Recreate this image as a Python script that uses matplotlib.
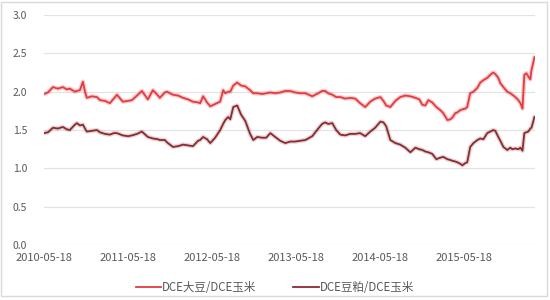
import matplotlib
matplotlib.use("Agg")
import matplotlib.pyplot as plt
import pandas as pd
from matplotlib.patches import Rectangle

plt.rcParams['font.family'] = ['Noto Sans CJK SC', 'DejaVu Sans']

dates = [
    "2010-05-18", "2010-06-04", "2010-06-26", "2010-07-17", "2010-08-08", "2010-08-25",
    "2010-09-07", "2010-09-29", "2010-10-08", "2010-10-21", "2010-11-03", "2010-11-12",
    "2010-11-20", "2010-12-12", "2011-01-03", "2011-01-16", "2011-02-07", "2011-02-28",
    "2011-03-17", "2011-03-31", "2011-04-25", "2011-05-18", "2011-06-04", "2011-06-26",
    "2011-07-17", "2011-08-12", "2011-09-03", "2011-09-25", "2011-10-03", "2011-10-25",
    "2011-11-03", "2011-11-29", "2011-12-21", "2012-01-12", "2012-02-02", "2012-02-24",
    "2012-03-17", "2012-03-26", "2012-04-08", "2012-04-25", "2012-05-09", "2012-05-30",
    "2012-06-21", "2012-07-04", "2012-07-13", "2012-07-26", "2012-08-04", "2012-08-17",
    "2012-09-03", "2012-09-20", "2012-10-08", "2012-10-29", "2012-11-12", "2012-11-29",
    "2012-12-21", "2013-01-07", "2013-01-25", "2013-02-15", "2013-03-09", "2013-03-31",
    "2013-04-21", "2013-05-13", "2013-06-04", "2013-06-26", "2013-07-26", "2013-08-21",
    "2013-09-07", "2013-09-20", "2013-10-03", "2013-10-21", "2013-11-07", "2013-11-25",
    "2013-12-16", "2014-01-07", "2014-01-29", "2014-02-19", "2014-03-13", "2014-04-04",
    "2014-04-25", "2014-05-18", "2014-05-31", "2014-06-12", "2014-06-30", "2014-07-22",
    "2014-08-12", "2014-09-03", "2014-09-25", "2014-10-17", "2014-11-03", "2014-11-16",
    "2014-11-29", "2014-12-12", "2014-12-29", "2015-01-16", "2015-02-02", "2015-02-15",
    "2015-03-05", "2015-03-17", "2015-03-26", "2015-04-08", "2015-04-17", "2015-04-30",
    "2015-05-09", "2015-05-22", "2015-05-30", "2015-06-12", "2015-06-26", "2015-07-13",
    "2015-07-26", "2015-08-08", "2015-08-25", "2015-09-07", "2015-09-20", "2015-09-29",
    "2015-10-12", "2015-10-21", "2015-11-03", "2015-11-20", "2015-12-03", "2015-12-12",
    "2015-12-25", "2016-01-07", "2016-01-16", "2016-01-25", "2016-02-02", "2016-02-11",
    "2016-02-19", "2016-02-28", "2016-03-04", "2016-03-17",
]

soy_corn = [
    1.97, 1.99, 2.06, 2.04, 2.06, 2.03, 2.04, 2.00, 2.01, 2.02, 2.13, 2.00,
    1.92, 1.94, 1.93, 1.89, 1.88, 1.85, 1.91, 1.96, 1.87, 1.88, 1.89, 1.95,
    2.01, 1.90, 2.02, 1.95, 1.92, 1.99, 2.00, 1.96, 1.95, 1.92, 1.90, 1.87,
    1.86, 1.85, 1.94, 1.86, 1.81, 1.84, 1.87, 2.02, 1.98, 2.00, 2.00, 2.08,
    2.12, 2.08, 2.07, 2.02, 1.98, 1.98, 1.97, 1.98, 1.99, 1.98, 1.99, 2.01,
    2.01, 1.99, 1.98, 1.98, 1.94, 1.98, 2.01, 2.01, 1.98, 1.96, 1.93, 1.93,
    1.91, 1.92, 1.91, 1.85, 1.80, 1.87, 1.91, 1.93, 1.88, 1.82, 1.80, 1.88,
    1.93, 1.95, 1.94, 1.92, 1.90, 1.83, 1.82, 1.89, 1.86, 1.80, 1.76, 1.72,
    1.63, 1.64, 1.66, 1.72, 1.73, 1.76, 1.77, 1.78, 1.80, 1.98, 2.00, 2.05,
    2.12, 2.15, 2.18, 2.22, 2.25, 2.23, 2.18, 2.11, 2.06, 2.00, 1.98, 1.96,
    1.93, 1.89, 1.85, 1.78, 2.22, 2.24, 2.20, 2.16, 2.28, 2.45,
]

meal_corn = [
    1.46, 1.47, 1.53, 1.52, 1.54, 1.51, 1.50, 1.57, 1.59, 1.56, 1.57, 1.52,
    1.48, 1.49, 1.50, 1.47, 1.45, 1.44, 1.46, 1.46, 1.43, 1.42, 1.43, 1.45,
    1.48, 1.41, 1.39, 1.38, 1.37, 1.37, 1.34, 1.28, 1.29, 1.31, 1.30, 1.29,
    1.36, 1.37, 1.41, 1.38, 1.33, 1.40, 1.50, 1.58, 1.63, 1.67, 1.64, 1.80,
    1.82, 1.70, 1.62, 1.45, 1.37, 1.41, 1.40, 1.40, 1.46, 1.41, 1.36, 1.33,
    1.35, 1.35, 1.36, 1.37, 1.42, 1.52, 1.58, 1.60, 1.58, 1.59, 1.50, 1.44,
    1.43, 1.45, 1.45, 1.46, 1.42, 1.48, 1.53, 1.61, 1.60, 1.55, 1.37, 1.33,
    1.31, 1.27, 1.21, 1.27, 1.25, 1.24, 1.22, 1.21, 1.19, 1.12, 1.14, 1.15,
    1.12, 1.11, 1.10, 1.09, 1.08, 1.06, 1.04, 1.07, 1.08, 1.28, 1.33, 1.37,
    1.39, 1.38, 1.46, 1.48, 1.50, 1.49, 1.41, 1.36, 1.28, 1.24, 1.27, 1.25,
    1.26, 1.25, 1.27, 1.23, 1.46, 1.47, 1.48, 1.52, 1.53, 1.67,
]

series_names = ["DCE大豆/DCE玉米", "DCE豆粕/DCE玉米"]
x_ticks = ["2010-05-18", "2011-05-18", "2012-05-18", "2013-05-18", "2014-05-18", "2015-05-18"]
y_ticks = [0.0, 0.5, 1.0, 1.5, 2.0, 2.5, 3.0]

d = pd.to_datetime(dates)

fig = plt.figure(figsize=(5.5, 3.0), dpi=100)
ax = fig.add_axes([0.08, 0.183, 0.893, 0.767])

red = "#e33b40"
dark = "#8a2b30"
# soft halo like the reference
ax.plot(d, soy_corn, color=red, lw=3.2, alpha=0.25, solid_capstyle="round")
ax.plot(d, meal_corn, color=dark, lw=3.2, alpha=0.2, solid_capstyle="round")
l1, = ax.plot(d, soy_corn, color=red, lw=1.3, label=series_names[0])
l2, = ax.plot(d, meal_corn, color=dark, lw=1.3, label=series_names[1])

ax.set_ylim(0, 3.0)
ax.set_xlim(pd.Timestamp("2010-05-18"), pd.Timestamp("2016-03-20"))
ax.set_yticks(y_ticks)
ax.set_yticklabels([f"{v:.1f}" for v in y_ticks])
ax.set_xticks(pd.to_datetime(x_ticks))
ax.set_xticklabels(x_ticks)
ax.tick_params(axis="both", length=0, colors="#595959")
ax.tick_params(axis="y", pad=12, labelsize=7.5)
ax.tick_params(axis="x", pad=6, labelsize=8)
ax.grid(axis="y", color="#e3e3e3", lw=0.9)
ax.set_axisbelow(True)
for s in ax.spines.values():
    s.set_visible(False)

leg = fig.legend(handles=[l1, l2], loc="center", bbox_to_anchor=(0.5, 0.043), ncol=2,
                 frameon=False, fontsize=8.3, handlelength=2.2, handletextpad=0.1,
                 columnspacing=3.2)
for t in leg.get_texts():
    t.set_color("#595959")

fig.patches.append(Rectangle((0.002, 0.012), 0.993, 0.983, transform=fig.transFigure,
                             fill=False, edgecolor="#d9d9d9", lw=1.0))

fig.savefig("out.png", dpi=100)
